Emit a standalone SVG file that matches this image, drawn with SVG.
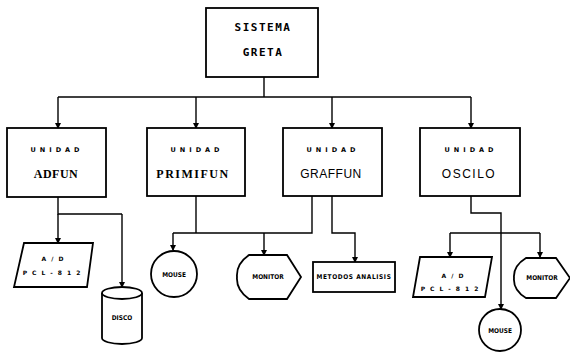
<svg xmlns="http://www.w3.org/2000/svg" width="570" height="354" viewBox="0 0 570 354">
  <style>
    .box { fill: #fff; stroke: #000; stroke-width: 1.8; }
    .wire { fill: none; stroke: #000; stroke-width: 1.4; }
    .title { font-family: "DejaVu Sans Mono", "Liberation Mono", monospace; font-weight: bold; font-size: 11px; text-anchor: middle; letter-spacing: 1.5px; }
    .unit { font-family: "DejaVu Sans", "Liberation Sans", sans-serif; font-weight: bold; font-size: 6.5px; text-anchor: middle; letter-spacing: 4px; }
    .name { font-family: "Liberation Serif", serif; font-weight: bold; font-size: 12px; text-anchor: middle; letter-spacing: 0.5px; }
    .small { font-family: "DejaVu Sans Condensed", "Liberation Sans Narrow", sans-serif; font-weight: bold; font-size: 6.5px; text-anchor: middle; }
    .spaced { font-family: "DejaVu Sans", "Liberation Sans", sans-serif; font-weight: bold; font-size: 6px; text-anchor: middle; letter-spacing: 5px; }
  </style>
  <defs>
    <marker id="arrow" markerUnits="userSpaceOnUse" markerWidth="6" markerHeight="6" refX="5" refY="3" orient="auto">
      <path d="M0,0 L6,3 L0,6 Z" fill="#000"/>
    </marker>
  </defs>

  <rect width="570" height="354" fill="#fff"/>

  <!-- connectors -->
  <g id="connectors" class="wire">
    <!-- root bus -->
    <path d="M264,77 V97"/>
    <path d="M58,97 H471"/>
    <path d="M58,97 V128" marker-end="url(#arrow)"/>
    <path d="M196,97 V128" marker-end="url(#arrow)"/>
    <path d="M332,97 V128" marker-end="url(#arrow)"/>
    <path d="M471,97 V128" marker-end="url(#arrow)"/>
    <!-- ADFUN outputs -->
    <path d="M58,197 V214 H122"/>
    <path d="M58,214 V243" marker-end="url(#arrow)"/>
    <path d="M122,214 V287" marker-end="url(#arrow)"/>
    <!-- PRIMIFUN / GRAFFUN shared outputs -->
    <path d="M196,196 V233"/>
    <path d="M312,196 V233 H173"/>
    <path d="M173,233 V250" marker-end="url(#arrow)"/>
    <path d="M264,233 V255" marker-end="url(#arrow)"/>
    <!-- GRAFFUN analysis -->
    <path d="M332,196 V233 H355 V262" marker-end="url(#arrow)"/>
    <!-- OSCILO outputs -->
    <path d="M471,196 V213 H501 V309" marker-end="url(#arrow)"/>
    <path d="M450,233 H540"/>
    <path d="M450,233 V257" marker-end="url(#arrow)"/>
    <path d="M540,233 V257" marker-end="url(#arrow)"/>
  </g>

  <g id="sistema-greta">
    <rect class="box" x="206" y="8" width="112" height="69"/>
    <text class="title" x="263" y="31">SISTEMA</text>
    <text class="title" x="263" y="56">GRETA</text>
  </g>

  <g id="adfun">
    <rect class="box" x="7" y="128" width="99" height="69"/>
    <text class="unit" x="57" y="152">UNIDAD</text>
    <text class="name" x="56" y="178">ADFUN</text>
  </g>

  <g id="primifun">
    <rect class="box" x="147" y="128" width="98" height="68"/>
    <text class="unit" x="197" y="152">UNIDAD</text>
    <text class="name" x="193" y="178" style="letter-spacing:1.5px">PRIMIFUN</text>
  </g>

  <g id="graffun">
    <rect class="box" x="283" y="128" width="99" height="68"/>
    <text class="unit" x="333" y="152">UNIDAD</text>
    <text class="name" x="331" y="178" style="font-family:'Liberation Sans',sans-serif;font-weight:normal">GRAFFUN</text>
  </g>

  <g id="oscilo">
    <rect class="box" x="420" y="128" width="100" height="68"/>
    <text class="unit" x="471" y="152">UNIDAD</text>
    <text class="name" x="469" y="178" style="font-family:'Liberation Sans',sans-serif;font-weight:normal;letter-spacing:1.5px">OSCILO</text>
  </g>

  <g id="adfun-ad">
    <path class="box" d="M24,243 H93 L87,287 H14 Z"/>
    <text class="spaced" x="55" y="261">A/D</text>
    <text class="spaced" x="54" y="275">PCL-812</text>
  </g>

  <g id="adfun-disco">
    <path class="box" d="M102,293 V338 A20,6 0 0 0 142,338 V293 A20,6 0 0 0 102,293 Z"/>
    <path class="wire" d="M102,293 A20,6 0 0 0 142,293" style="stroke-width:1.8"/>
    <text class="small" x="122" y="320">DISCO</text>
  </g>

  <g id="primifun-mouse">
    <circle class="box" cx="174" cy="274" r="23"/>
    <text class="small" x="174" y="277">MOUSE</text>
  </g>

  <g id="primifun-monitor">
    <path class="box" d="M249,255 H287 L301,277 L287,299 H249 Q236,290 237,277 Q236,264 249,255 Z"/>
    <text class="small" x="268" y="279">MONITOR</text>
  </g>

  <g id="graffun-metodos">
    <rect class="box" x="313" y="262" width="82" height="30"/>
    <text class="small" x="354" y="279" style="letter-spacing:0.6px">METODOS ANALISIS</text>
  </g>

  <g id="oscilo-ad">
    <path class="box" d="M420,257 H492 L485,297 H413 Z"/>
    <text class="spaced" x="455" y="278">A/D</text>
    <text class="spaced" x="452" y="291">PCL-812</text>
  </g>

  <g id="oscilo-monitor">
    <path class="box" d="M526,258 H556 L570,278 L556,298 H526 Q513,290 514,278 Q513,266 526,258 Z"/>
    <text class="small" x="542" y="280">MONITOR</text>
  </g>

  <g id="oscilo-mouse">
    <circle class="box" cx="500" cy="330" r="21"/>
    <text class="small" x="500" y="333">MOUSE</text>
  </g>
</svg>
